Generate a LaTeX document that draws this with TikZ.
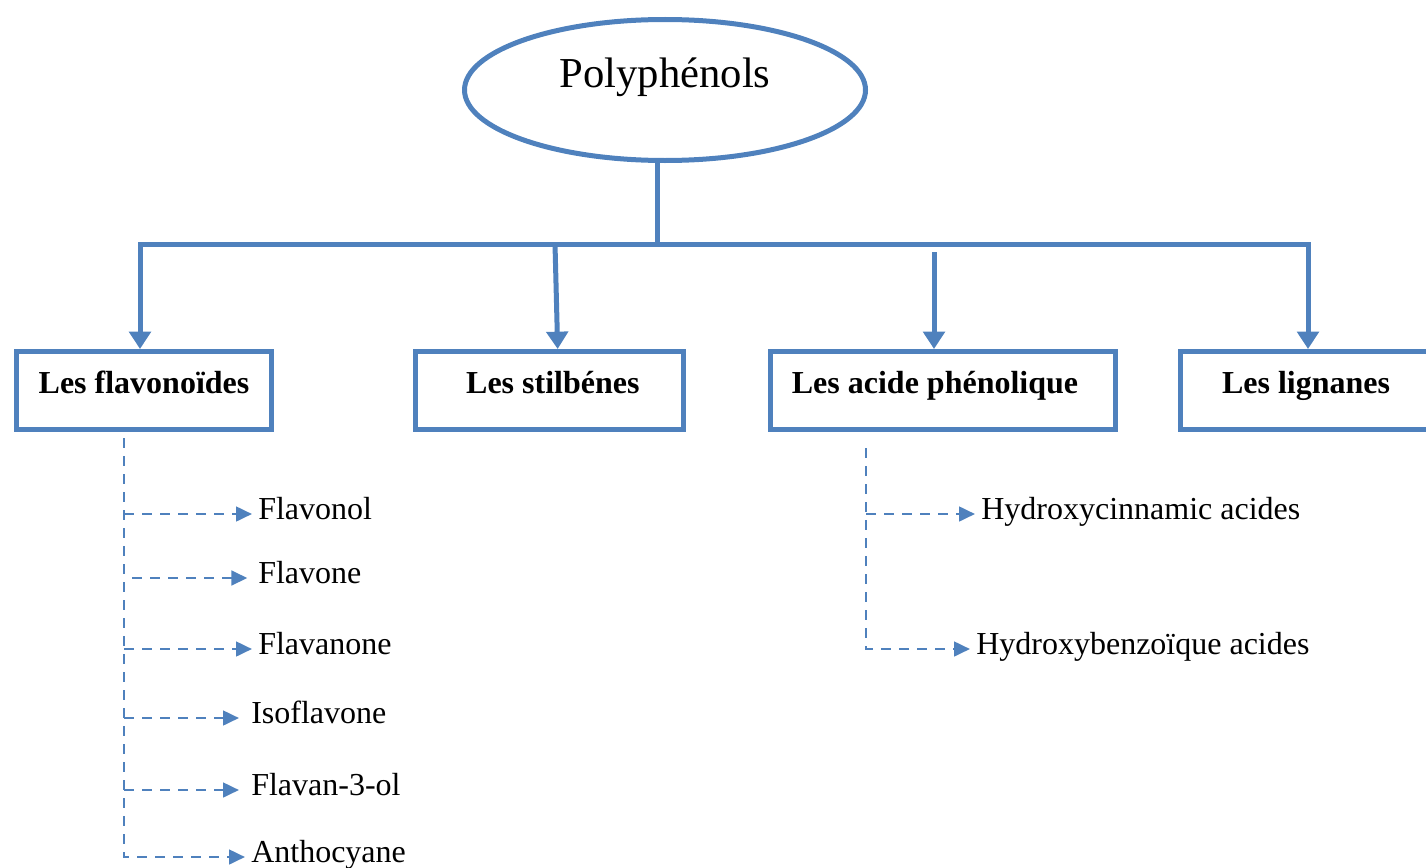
\documentclass[tikz,border=0pt]{standalone}
\usepackage{fontspec}
\setmainfont{Liberation Serif}
\usetikzlibrary{shapes,arrows.meta,positioning,calc}
\definecolor{polyblue}{HTML}{4F81BD}
\tikzset{bigtip/.tip={Triangle[width=16pt,length=13pt]},
    smalltip/.tip={Triangle[width=11pt,length=12pt]}}

\begin{document}
\begin{tikzpicture}[x=0.75pt, y=-0.75pt,
    title/.style={ellipse, draw=polyblue, line width=3.75pt, minimum width=300.75pt, minimum height=105.75pt,
        font=\fontsize{32}{38}\selectfont, text height=22pt, text depth=25pt},
    family/.style={rectangle, draw=polyblue, line width=3.75pt, minimum height=58.5pt,
        font=\fontsize{24}{28}\selectfont\bfseries, text height=16pt, text depth=12pt},
    item/.style={anchor=west, inner sep=0pt, font=\fontsize{24}{28}\selectfont, text height=12pt, text depth=4.5pt},
    bus/.style={draw=polyblue, line width=3.75pt},
    branch/.style={draw=polyblue, line width=2pt, dash pattern=on 7.5pt off 6pt, -smalltip, shorten >=4.5pt}]

    \useasboundingbox (0,0) rectangle (1426,867);

    % top and the four families
    \node[title] (poly) at (665,90) {Polyphénols};
    \node[family, minimum width=191.25pt] (fla) at (144,390.5) {Les flavonoïdes};
    \node[family, minimum width=201pt] (sti) at (549.5,390.5) {\kern5pt Les stilbénes};
    \node[family, minimum width=258.75pt] (aci) at (943,390.5) {Les acide phénolique\kern12pt};
    \node[family, minimum width=188.25pt] (lig) at (1306,390.5) {Les lignanes};

    \coordinate (hub) at (657,244);
    \coordinate (b1) at (140,244);
    \coordinate (b2) at (555,244);
    \coordinate (b3) at (934,252);
    \coordinate (b4) at (1308,244);

    \draw[bus] (poly.south -| hub) -- (hub);
    \draw[bus, bigtip-bigtip] (fla.north -| b1) |- (b4) -- (lig.north -| b4);
    \draw[bus, -bigtip] (b2) -- ([xshift=2]b2 |- sti.north);
    \draw[bus, -bigtip] (b3) -- (b3 |- aci.north);

    % flavonoids
    \node[item] (flvl) at (258,514) {Flavonol};
    \node[item] (flvo) at (258,578) {Flavone};
    \node[item] (flva) at (258,649) {Flavanone};
    \node[item] (iso) at (251,718) {Isoflavone};
    \node[item] (fl3) at (251,790) {Flavan-3-ol};
    \node[item] (ant) at (251,857) {Anthocyane};
    \coordinate (ft) at (124,438);

    \draw[branch] (ft) |- (ant);
    \draw[branch] (ft |- flvl) -- (flvl);
    \draw[branch, shorten <=6pt, shorten >=8pt] (ft |- flvo) -- (flvo);
    \draw[branch] (ft |- flva) -- (flva);
    \draw[branch, shorten >=9pt] (ft |- iso) -- (iso);
    \draw[branch, shorten >=9pt] (ft |- fl3) -- (fl3);

    % phenolic acids
    \node[item] (hci) at (981,514) {Hydroxycinnamic acides};
    \node[item] (hba) at (976,649) {Hydroxybenzoïque acides};
    \coordinate (at) at (866,448);

    \draw[branch] (at) |- (hba);
    \draw[branch] (at |- hci) -- (hci);
\end{tikzpicture}
\end{document}
